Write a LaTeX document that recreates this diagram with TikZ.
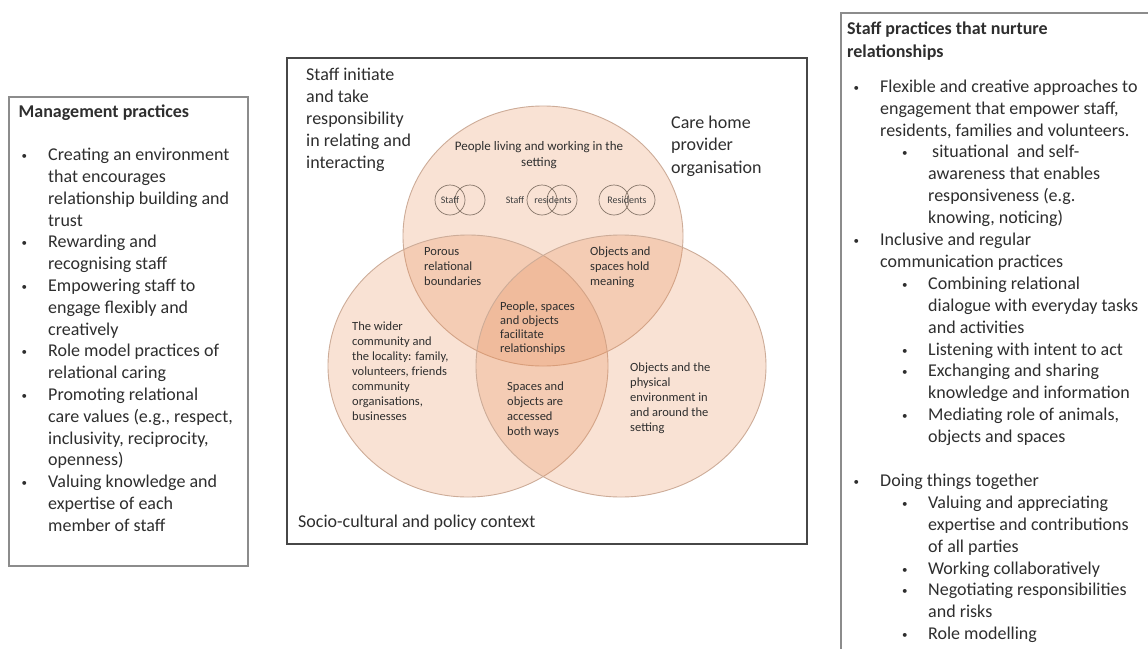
\documentclass[tikz,border=0pt]{standalone}
\usepackage{fontspec}
\setmainfont{Carlito}
\newcommand{\smbul}{{\fontsize{11}{11}\selectfont\raisebox{1pt}{\textbullet}}}
\newcommand{\mybl}{\makebox[29.5pt][l]{\hspace{3pt}\smbul}}
\newcommand{\myind}{\hspace*{29.5pt}}
\newcommand{\subbl}{\hspace*{51.5pt}\makebox[26pt][l]{\smbul}}
\newcommand{\subind}{\hspace*{77.5pt}}
\begin{document}
\begin{tikzpicture}[x=1pt,y=-1pt]
\tikzset{
  sidebox/.style={draw=black!45, line width=1.3pt},
  mainbox/.style={draw=black!72, line width=1.8pt},
  venn/.style={fill={rgb,255:red,232;green,140;blue,85}, fill opacity=0.25,
               draw={rgb,255:red,205;green,172;blue,152}, line width=0.9pt},
  smallc/.style={draw={rgb,255:red,135;green,118;blue,105}, line width=0.7pt},
  bigtxt/.style={inner sep=0pt, anchor=north west, align=left, text=black!82,
                 font=\fontsize{18}{21.8}\selectfont},
  smalltxt/.style={inner sep=0pt, anchor=north west, align=left, text=black!82,
                 font=\fontsize{12.5}{15}\selectfont},
  tinytxt/.style={inner sep=0pt, text=black!75, font=\fontsize{10}{12}\selectfont},
}
\useasboundingbox (0,0) rectangle (1148,648);
\fill[white] (0,0) rectangle (1148,648);

% ---------- left box ----------
\draw[sidebox] (9,97) rectangle (248,566);
\node[bigtxt] (mgmt) at (18.5,101.7) {\strut\textbf{Management practices}\\[21.8pt]
\mybl Creating an environment\\
\myind that encourages\\
\myind relationship building and\\
\myind trust\\
\mybl Rewarding and\\
\myind recognising staff\\
\mybl Empowering staff to\\
\myind engage flexibly and\\
\myind creatively\\
\mybl Role model practices of\\
\myind relational caring\\
\mybl Promoting relational\\
\myind care values (e.g., respect,\\
\myind inclusivity, reciprocity,\\
\myind openness)\\
\mybl Valuing knowledge and\\
\myind expertise of each\\
\myind member of staff};

% ---------- centre box ----------
\draw[mainbox] (287,58) rectangle (807,544);
\draw[venn] (543,236) ellipse [x radius=140, y radius=130];
\draw[venn] (468,366) ellipse [x radius=140, y radius=131];
\draw[venn] (621,366) ellipse [x radius=145, y radius=131];

\draw[smallc] (450,200) circle [radius=15];
\draw[smallc] (470,200) circle [radius=15];
\draw[smallc] (542,200) circle [radius=15];
\draw[smallc] (562,200) circle [radius=15];
\draw[smallc] (614,200) circle [radius=15];
\draw[smallc] (640,200) circle [radius=15];
\node[tinytxt] (lstaff) at (450,200) {Staff};
\node[tinytxt] (lstaff2) at (515,200) {Staff};
\node[tinytxt] (lres) at (553,200) {residents};
\node[tinytxt] (lres2) at (627,200) {Residents};

\node[inner sep=0pt, anchor=north, align=center, text=black!82, font=\fontsize{13}{15.5}\selectfont]
  (living) at (539,139.5) {\strut People living and working in the\\setting};

\node[smalltxt] (porous) at (424,245) {\strut Porous\\relational\\boundaries};
\node[smalltxt] (hold) at (590,245) {\strut Objects and\\spaces hold\\meaning};
\node[smalltxt, font=\fontsize{12.5}{14}\selectfont] (facil) at (500,300) {\strut People, spaces\\and objects\\facilitate\\relationships};
\node[smalltxt] (wider) at (352,320) {\strut The wider\\community and\\the locality: family,\\volunteers, friends\\community\\organisations,\\businesses};
\node[smalltxt] (access) at (507,380) {\strut Spaces and\\objects are\\accessed\\both ways};
\node[smalltxt] (phys) at (630,361) {\strut Objects and the\\physical\\environment in\\and around the\\setting};

\node[bigtxt, font=\fontsize{18}{22}\selectfont] (initiate) at (306,64.6) {\strut Staff initiate\\and take\\responsibility\\in relating and\\interacting};
\node[bigtxt, font=\fontsize{18}{22.5}\selectfont] (carehome) at (671,112.3) {\strut Care home\\provider\\organisation};
\node[bigtxt, font=\fontsize{18}{22}\selectfont] (socio) at (298,511.6) {\strut Socio-cultural and policy context};

% ---------- right box ----------
\draw[sidebox] (841,13) rectangle (1170,670);
\node[bigtxt, font=\fontsize{18}{22.5}\selectfont] (stafftitle) at (847,18.7) {\strut\textbf{Staff practices that nurture}\\\textbf{relationships}};
\node[bigtxt, font=\fontsize{18}{21.9}\selectfont] (stafflist) at (850.5,76.7) {\strut
\mybl Flexible and creative approaches to\\
\myind engagement that empower staff,\\
\myind residents, families and volunteers.\\
\subbl\hspace{4pt}situational\ \ and self-\\
\subind awareness that enables\\
\subind responsiveness (e.g.\\
\subind knowing, noticing)\\
\mybl Inclusive and regular\\
\myind communication practices\\
\subbl Combining relational\\
\subind dialogue with everyday tasks\\
\subind and activities\\
\subbl Listening with intent to act\\
\subbl Exchanging and sharing\\
\subind knowledge and information\\
\subbl Mediating role of animals,\\
\subind objects and spaces\\[21.9pt]
\mybl Doing things together\\
\subbl Valuing and appreciating\\
\subind expertise and contributions\\
\subind of all parties\\
\subbl Working collaboratively\\
\subbl Negotiating responsibilities\\
\subind and risks\\
\subbl Role modelling};
\end{tikzpicture}
\end{document}
